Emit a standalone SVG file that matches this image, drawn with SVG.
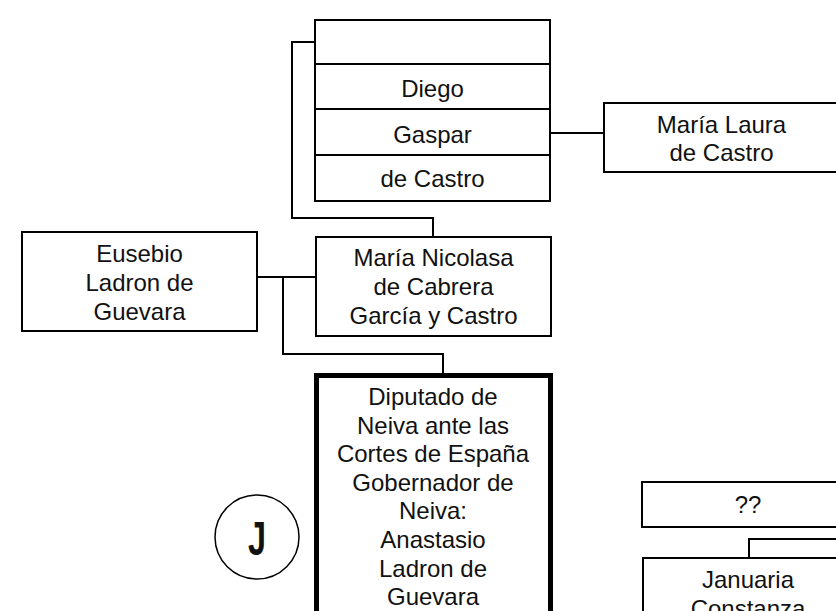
<svg xmlns="http://www.w3.org/2000/svg" width="836" height="611" viewBox="0 0 836 611">
<style>
.box{fill:#fff;stroke:#000;stroke-width:2}
.thick{fill:#fff;stroke:#000;stroke-width:5}
.conn{fill:none;stroke:#000;stroke-width:2}
text{font-family:"Liberation Sans",Arial,sans-serif;font-size:24px;fill:#111;text-anchor:middle}
.big{font-size:48px;font-weight:bold}
</style>
<rect width="836" height="611" fill="#fff"/>
<g id="connectors">
<path class="conn" d="M315,42 H292 V218 H433 V237"/>
<path class="conn" d="M550,133 H604"/>
<path class="conn" d="M257,277 H316"/>
<path class="conn" d="M283,277 V354 H443 V375"/>
<path class="conn" d="M749,558 V539 H840"/>
</g>
<g id="castro-stack">
<rect class="box" x="315" y="20" width="235" height="181"/>
<line class="conn" x1="315" y1="64" x2="550" y2="64"/>
<line class="conn" x1="315" y1="109" x2="550" y2="109"/>
<line class="conn" x1="315" y1="155" x2="550" y2="155"/>
<text x="432.5" y="97">Diego</text>
<text x="432.5" y="143">Gaspar</text>
<text x="432.5" y="187">de Castro</text>
</g>
<g id="maria-laura">
<rect class="box" x="604" y="103" width="235" height="69"/>
<text x="721.5" y="133">María Laura</text>
<text x="721.5" y="161">de Castro</text>
</g>
<g id="eusebio">
<rect class="box" x="22" y="232" width="235" height="99"/>
<text x="139.5" y="262">Eusebio</text>
<text x="139.5" y="291">Ladron de</text>
<text x="139.5" y="320">Guevara</text>
</g>
<g id="maria-nicolasa">
<rect class="box" x="316" y="237" width="235" height="99"/>
<text x="433.5" y="266">María Nicolasa</text>
<text x="433.5" y="295">de Cabrera</text>
<text x="433.5" y="324">García y Castro</text>
</g>
<g id="anastasio">
<rect class="thick" x="316.5" y="375.5" width="234" height="260"/>
<text x="433" y="405">Diputado de</text>
<text x="433" y="433.5">Neiva ante las</text>
<text x="433" y="462">Cortes de España</text>
<text x="433" y="490.5">Gobernador de</text>
<text x="433" y="519">Neiva:</text>
<text x="433" y="548">Anastasio</text>
<text x="433" y="577">Ladron de</text>
<text x="433" y="605">Guevara</text>
</g>
<g id="marker-j">
<circle cx="257" cy="537" r="42" fill="#fff" stroke="#000" stroke-width="1.5"/>
<text class="big" x="257" y="555" textLength="18" lengthAdjust="spacingAndGlyphs">J</text>
</g>
<g id="unknown">
<rect class="box" x="642" y="482" width="212" height="45"/>
<text x="748" y="513">??</text>
</g>
<g id="januaria">
<rect class="box" x="643" y="558" width="212" height="80"/>
<text x="748" y="588">Januaria</text>
<text x="748" y="617">Constanza</text>
</g>
</svg>
